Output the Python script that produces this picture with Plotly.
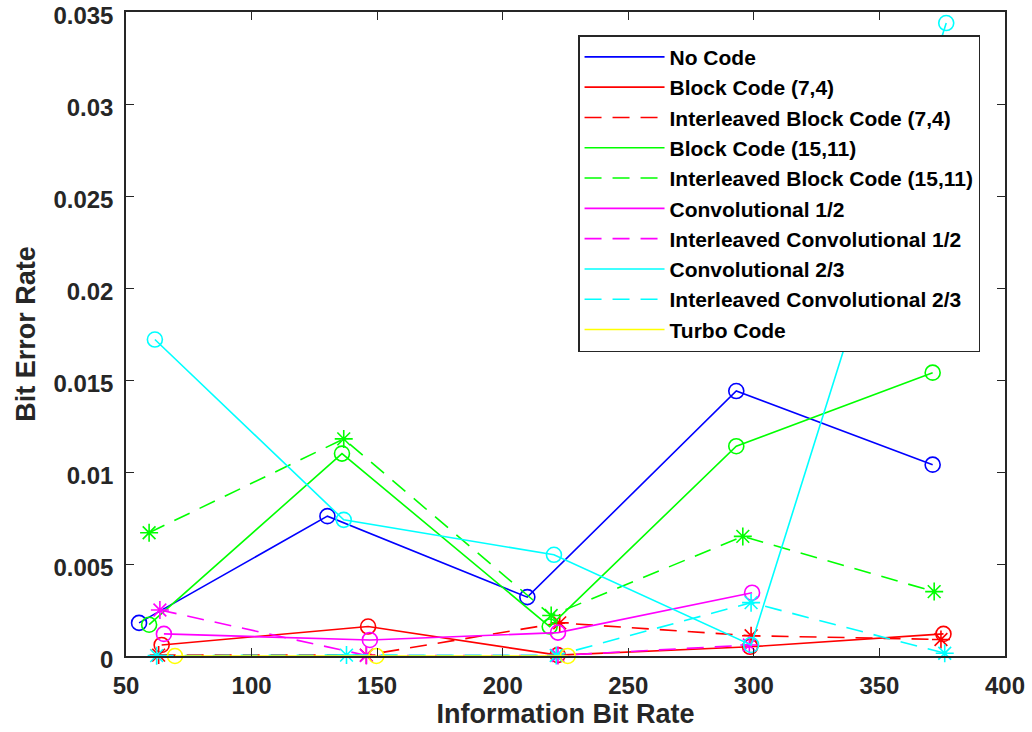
import plotly.graph_objects as go

names = ["No Code", "Block Code (7,4)", "Interleaved Block Code (7,4)", "Block Code (15,11)",
         "Interleaved Block Code (15,11)", "Convolutional 1/2", "Interleaved Convolutional 1/2",
         "Convolutional 2/3", "Interleaved Convolutional 2/3", "Turbo Code"]

x_nocode = [55.2, 130.2, 209.8, 293.0, 371.2]
y_nocode = [0.0018, 0.0076, 0.0032, 0.0144, 0.0104]
x_blk74 = [64.2, 146.4, 221.9, 298.5, 375.5]
y_blk74 = [0.0006, 0.0016, 0.00005, 0.0005, 0.0012]
x_iblk74 = [63.0, 145.7, 222.7, 298.9, 374.5]
y_iblk74 = [0.00005, 0.00005, 0.0018, 0.0011, 0.0009]
x_blk1511 = [59.2, 136.0, 218.7, 293.0, 371.2]
y_blk1511 = [0.0017, 0.0110, 0.0016, 0.0114, 0.0154]
x_iblk1511 = [59.2, 136.7, 219.3, 295.6, 371.8]
y_iblk1511 = [0.0067, 0.0118, 0.0022, 0.0065, 0.0035]
x_conv12 = [65.1, 147.1, 222.0, 299.3]
y_conv12 = [0.0012, 0.00087, 0.00127, 0.00344]
x_iconv12 = [63.5, 145.7, 222.0, 298.2]
y_iconv12 = [0.0025, 0.00003, 0.00003, 0.0006]
x_conv23 = [61.5, 136.7, 220.4, 298.9, 376.6]
y_conv23 = [0.0172, 0.0074, 0.0055, 0.0006, 0.0344]
x_iconv23 = [62.2, 137.8, 221.3, 298.9, 376.0]
y_iconv23 = [0.00002, 0.00005, 0.00003, 0.0029, 0.00015]
x_turbo = [69.5, 149.7, 225.9]
y_turbo = [0.0, 0.0, 0.0]

xs = [x_nocode, x_blk74, x_iblk74, x_blk1511, x_iblk1511, x_conv12, x_iconv12, x_conv23, x_iconv23, x_turbo]
ys = [y_nocode, y_blk74, y_iblk74, y_blk1511, y_iblk1511, y_conv12, y_iconv12, y_conv23, y_iconv23, y_turbo]
colors = ["#0000FF", "#FF0000", "#FF0000", "#00FF00", "#00FF00", "#FF00FF", "#FF00FF", "#00FFFF", "#00FFFF", "#FFFF00"]
dashed = [False, False, True, False, True, False, True, False, True, False]

x_ticks = [50, 100, 150, 200, 250, 300, 350, 400]
y_ticks = [0, 0.005, 0.01, 0.015, 0.02, 0.025, 0.03, 0.035]
y_ticktext = ["0", "0.005", "0.01", "0.015", "0.02", "0.025", "0.03", "0.035"]

DASH = "17px,11px"
fig = go.Figure()
for n, x, y, c, d in zip(names, xs, ys, colors, dashed):
    fig.add_trace(go.Scatter(
        x=x, y=y, mode="lines+markers", name=n, cliponaxis=False, showlegend=False,
        line=dict(color=c, width=1.6, dash=DASH if d else "solid"),
        marker=dict(symbol="asterisk-open" if d else "circle-open", size=15,
                    color=c, line=dict(color=c, width=1.6)),
    ))
for n, c, d in zip(names, colors, dashed):
    fig.add_trace(go.Scatter(
        x=[None], y=[None], mode="lines", name=n,
        line=dict(color=c, width=1.6, dash=DASH if d else "solid"),
    ))

font = dict(family="Liberation Sans, Arial, sans-serif", size=24, color="#262626", weight="bold")
axcommon = dict(showline=True, linecolor="#262626", linewidth=1.5, mirror="ticks",
                ticks="inside", ticklen=8, tickwidth=1.3, tickcolor="#262626",
                showgrid=False, zeroline=False, tickfont=font, automargin=False,
                ticklabeloverflow="allow")
fig.update_layout(
    width=1032, height=732,
    margin=dict(l=126, r=27, t=12, b=76),
    paper_bgcolor="white", plot_bgcolor="white",
    font=font,
    xaxis=dict(range=[50, 400], tickvals=x_ticks, ticktext=[str(v) for v in x_ticks],
               ticklabelstandoff=7,
               title=dict(text="Information Bit Rate", font=dict(font, size=27), standoff=4),
               **axcommon),
    yaxis=dict(range=[0, 0.035], tickvals=y_ticks, ticktext=y_ticktext,
               ticklabelstandoff=6, ticklabelshift=4,
               title=dict(text="Bit Error Rate", font=dict(font, size=27), standoff=10),
               **axcommon),
    legend=dict(x=0.9716, y=0.964, xanchor="right", yanchor="top",
                bgcolor="white", bordercolor="#262626", borderwidth=1.5,
                font=dict(font, size=21, color="black"), itemwidth=80,
                tracegroupgap=0),
    showlegend=True,
)
fig.write_html("out.html", config={"displayModeBar": False},
               post_script="document.body.style.margin='0';")
